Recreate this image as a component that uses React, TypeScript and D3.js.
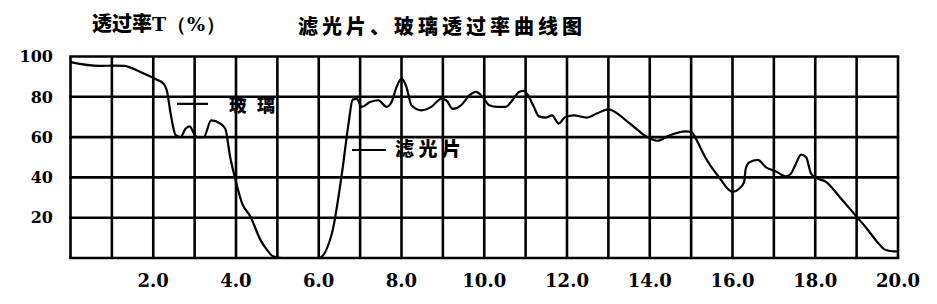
import React from "react";
import * as d3 from "d3";

// Data
const xTickLabels = ["2.0", "4.0", "6.0", "8.0", "10.0", "12.0", "14.0", "16.0", "18.0", "20.0"];
const xTickValues = [2, 4, 6, 8, 10, 12, 14, 16, 18, 20];
const yTickLabels = ["100", "80", "60", "40", "20"];
const yTickValues = [100, 80, 60, 40, 20];
const gridX = d3.range(0, 21, 1);
const gridY = [0, 20, 40, 60, 80, 100];

const curveX = [
  0, 0.7, 1.05, 1.3, 1.7, 2.09, 2.25, 2.33, 2.42, 2.54, 2.66, 2.78, 2.88, 2.98, 3.06, 3.22, 3.4, 3.62, 3.74,
  3.86, 3.99, 4.15, 4.35, 4.59, 4.75, 4.9, 5.1, 6.0, 6.32, 6.56, 6.72, 6.82, 6.92, 7.04, 7.24, 7.44, 7.64,
  7.76, 7.88, 8.0, 8.12, 8.24, 8.48, 8.72, 8.96, 9.08, 9.24, 9.44, 9.64, 9.8, 9.96, 10.12, 10.32, 10.52,
  10.68, 10.84, 10.96, 11.08, 11.2, 11.32, 11.48, 11.64, 11.8, 11.96, 12.16, 12.48, 12.72, 13.0, 13.49,
  13.98, 14.18, 14.46, 14.87, 15.02, 15.14, 15.34, 15.67, 16.0, 16.16, 16.28, 16.32, 16.41, 16.61, 16.81,
  17.04, 17.29, 17.41, 17.53, 17.66, 17.78, 17.9, 18.02, 18.27, 18.59, 19.0, 19.24, 19.49, 19.69, 19.9, 20.0,
];
const curveY = [
  97.2, 95.3, 95.5, 95.3, 92.2, 88.5, 86.5, 83, 71.7, 61, 60, 64.2, 65.3, 62, 60, 60, 68.3, 66.7, 64.2,
  50, 38.6, 27, 20.5, 9, 4, 0.8, 0, 0, 12.4, 42, 66.7, 78.6, 79, 75, 77.4, 78.3, 75,
  77.4, 84.8, 89, 84.8, 75.8, 73.3, 75, 79, 78.3, 74, 75.8, 80.7, 82.4, 80, 75.8, 75, 75,
  78.3, 82.4, 83, 80, 75, 70.3, 69.7, 70.8, 66.7, 70, 70.8, 69.7, 71.7, 73.8, 67.2,
  59.5, 58.2, 60.7, 62.8, 62.3, 58.2, 50, 40.2, 32.8, 34.4, 37.7, 44.3, 47.5, 48.7, 45,
  43.1, 40.5, 41.8, 46.7, 51.3, 50, 41.8, 39.8, 37.7, 30.3, 20.5, 14.8, 8.2, 4.1, 3.3, 3.3,
];

const title = "滤光片、玻璃透过率曲线图";
const yAxisTitleCjk = "透过率";
const yAxisTitleUnit = "T（%）";
const glassLabel = "玻璃";
const filterLabel = "滤光片";

export default function App() {
  const W = 937;
  const H = 304;
  const x = d3.scaleLinear().domain([0, 20]).range([70.5, 898]);
  const y = d3.scaleLinear().domain([0, 100]).range([258, 56.5]);

  const pts: [number, number][] = curveX.map((v, i) => [v, curveY[i]]);
  const line = d3
    .line<[number, number]>()
    .x((d) => x(d[0]))
    .y((d) => y(d[1]))
    .curve(d3.curveMonotoneX);

  const serif = "DejaVu Serif, serif";
  const cjk = "Noto Sans CJK SC, sans-serif";

  return (
    <svg
      width={W}
      height={H}
      viewBox={`0 0 ${W} ${H}`}
      style={{ position: "absolute", left: 0, top: 0, background: "#fff" }}
    >
      <rect x={0} y={0} width={W} height={H} fill="#fff" />
      {/* titles */}
      <text x={92} y={31} style={{ fontFamily: cjk, fontWeight: 900, fontSize: 20 }}>
        <tspan>{yAxisTitleCjk}</tspan>
        <tspan style={{ fontFamily: serif, fontWeight: 700, fontSize: 19 }} textLength={73} lengthAdjust="spacing">
          {yAxisTitleUnit}
        </tspan>
      </text>
      <text
        x={298}
        y={34}
        style={{ fontFamily: cjk, fontWeight: 900, fontSize: 20 }}
        textLength={284}
        lengthAdjust="spacing"
      >
        {title}
      </text>

      {/* grid */}
      {gridX.map((v) => (
        <line key={"gx" + v} x1={x(v)} x2={x(v)} y1={y(0)} y2={y(100)} stroke="#000" strokeWidth={2.6} />
      ))}
      {gridY.map((v) => (
        <line key={"gy" + v} x1={x(0) - 1.3} x2={x(20) + 1.3} y1={y(v)} y2={y(v)} stroke="#000" strokeWidth={2.6} />
      ))}

      {/* y tick labels */}
      {yTickValues.map((v, i) => (
        <text
          key={"yl" + v}
          x={53}
          y={y(v)}
          dy="0.36em"
          textAnchor="end"
          style={{ fontFamily: serif, fontWeight: 700, fontSize: 16 }}
        >
          {yTickLabels[i]}
        </text>
      ))}

      {/* x tick labels */}
      {xTickValues.map((v, i) => (
        <text
          key={"xl" + v}
          x={x(v)}
          y={287}
          textAnchor="middle"
          style={{ fontFamily: serif, fontWeight: 700, fontSize: 18 }}
        >
          {xTickLabels[i]}
        </text>
      ))}

      {/* curve */}
      <path d={line(pts) || ""} fill="none" stroke="#000" strokeWidth={2.2} strokeLinejoin="round" />

      {/* annotations */}
      <line x1={177} x2={208} y1={y(76.5)} y2={y(76.5)} stroke="#000" strokeWidth={2.2} />
      <text
        x={229}
        y={y(75.5)}
        dy="0.36em"
        style={{ fontFamily: cjk, fontWeight: 900, fontSize: 18 }}
        textLength={46}
        lengthAdjust="spacing"
      >
        {glassLabel}
      </text>
      <line x1={352} x2={386} y1={150} y2={150} stroke="#000" strokeWidth={2.2} />
      <text
        x={395}
        y={149}
        dy="0.36em"
        style={{ fontFamily: cjk, fontWeight: 900, fontSize: 19 }}
        textLength={66}
        lengthAdjust="spacing"
      >
        {filterLabel}
      </text>
    </svg>
  );
}
